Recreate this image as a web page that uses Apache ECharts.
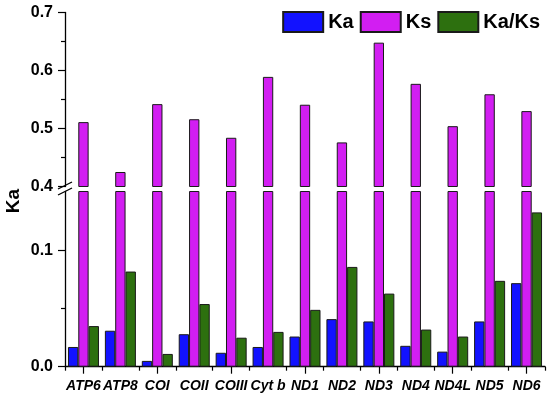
<!DOCTYPE html>
<html>
<head>
<meta charset="utf-8">
<script src="https://cdn.jsdelivr.net/npm/echarts@6/dist/echarts.min.js"></script>
<style>
html,body{margin:0;padding:0;background:#fff;}
#c{width:550px;height:399px;}
</style>
</head>
<body>
<div id="c"></div>
<script>
const categories = ['ATP6','ATP8','COI','COII','COIII','Cyt b','ND1','ND2','ND3','ND4','ND4L','ND5','ND6'];
const kaValues   = [0.017, 0.031, 0.005, 0.028, 0.012, 0.017, 0.026, 0.041, 0.039, 0.018, 0.013, 0.039, 0.072];
const ksValues   = [0.511, 0.425, 0.542, 0.516, 0.484, 0.589, 0.541, 0.476, 0.648, 0.577, 0.504, 0.559, 0.530];
const kaksValues = [0.035, 0.082, 0.011, 0.054, 0.025, 0.030, 0.049, 0.086, 0.063, 0.032, 0.026, 0.074, 0.133];
const upperTicks = [0.4, 0.5, 0.6, 0.7];
const lowerTicks = [0.0, 0.1];
const lowerMinorTicks = [0.05];

const FONT = 'Liberation Sans, Arial, sans-serif';
const colors = {Ka:'#1212FF', Ks:'#D21EF2', KaKs:'#2D700F'};
const border = {borderColor:'#1a1a1a', borderWidth:1};
const blank = v => '-';

const chart = echarts.init(document.getElementById('c'), null, {renderer:'canvas'});

const gridLeft = 65, gridRight = 5;
const barCommon = {barGap:'0%', barCategoryGap:'16%', animation:false};

chart.setOption({
  animation:false,
  legend:{
    right:5, top:6, icon:'rect',
    itemWidth:40, itemHeight:20, itemGap:6,
    textStyle:{fontFamily:FONT, fontWeight:'bold', fontSize:20, color:'#000'},
    data:['Ka','Ks','Ka/Ks']
  },
  grid:[
    {left:gridLeft, right:gridRight, top:12.5, height:174},
    {left:gridLeft, right:gridRight, top:191.5, height:175.2}
  ],
  xAxis:[
    {type:'category', gridIndex:0, data:categories, show:false},
    {type:'category', gridIndex:1, data:categories, position:'bottom',
      axisLine:{lineStyle:{color:'#000', width:1.3}},
      axisTick:{show:true, alignWithLabel:false, length:4, lineStyle:{color:'#000', width:1.2}},
      axisLabel:{fontFamily:FONT, fontWeight:'bold', fontStyle:'italic', fontSize:14, color:'#000', margin:12, interval:0}
    },
    {type:'category', gridIndex:1, data:categories, position:'bottom',
      axisLine:{show:false},
      axisTick:{show:true, alignWithLabel:true, length:7, lineStyle:{color:'#000', width:1.2}},
      axisLabel:{show:false}
    }
  ],
  yAxis:[
    {type:'value', gridIndex:0, min:0.4, max:0.7, interval:0.1, position:'left',
      axisLine:{show:true, lineStyle:{color:'#000', width:1.3}},
      axisTick:{show:true, length:7, lineStyle:{color:'#000', width:1.2}},
      minorTick:{show:true, splitNumber:2, length:4, lineStyle:{color:'#000', width:1.2}},
      splitLine:{show:false},
      axisLabel:{customValues:upperTicks, fontFamily:FONT, fontWeight:'bold', fontSize:16, color:'#000', margin:12,
        formatter:v=>v.toFixed(1)}
    },
    {type:'value', gridIndex:1, min:0, max:0.151, position:'left',
      axisLine:{show:true, lineStyle:{color:'#000', width:1.3}},
      axisTick:{show:true, customValues:lowerTicks, length:7, lineStyle:{color:'#000', width:1.2}},
      splitLine:{show:false},
      axisLabel:{customValues:lowerTicks, fontFamily:FONT, fontWeight:'bold', fontSize:16, color:'#000', margin:12,
        formatter:v=>v.toFixed(1)}
    },
    {type:'value', gridIndex:1, min:0, max:0.151, position:'left', offset:0,
      axisLine:{show:false},
      axisTick:{show:true, customValues:lowerMinorTicks, length:4, lineStyle:{color:'#000', width:1.2}},
      splitLine:{show:false},
      axisLabel:{show:false, customValues:lowerMinorTicks}
    }
  ],
  series:[
    Object.assign({name:'Ka', type:'bar', xAxisIndex:0, yAxisIndex:0, data:kaValues.map(blank), itemStyle:Object.assign({color:colors.Ka}, border)}, barCommon),
    Object.assign({name:'Ks', type:'bar', xAxisIndex:0, yAxisIndex:0, data:ksValues, itemStyle:Object.assign({color:colors.Ks}, border)}, barCommon),
    Object.assign({name:'Ka/Ks', type:'bar', xAxisIndex:0, yAxisIndex:0, data:kaksValues.map(blank), itemStyle:Object.assign({color:colors.KaKs}, border)}, barCommon),
    Object.assign({name:'Ka', type:'bar', xAxisIndex:1, yAxisIndex:1, data:kaValues, itemStyle:Object.assign({color:colors.Ka}, border)}, barCommon),
    Object.assign({name:'Ks', type:'bar', xAxisIndex:1, yAxisIndex:1, data:ksValues, itemStyle:Object.assign({color:colors.Ks}, border)}, barCommon),
    Object.assign({name:'Ka/Ks', type:'bar', xAxisIndex:1, yAxisIndex:1, data:kaksValues, itemStyle:Object.assign({color:colors.KaKs}, border)}, barCommon)
  ],
  graphic:[
    {type:'text', x:14, y:201, rotation:Math.PI/2,
      style:{text:'Ka', fontFamily:FONT, fontWeight:'bold', fontSize:19, fill:'#000', align:'center', verticalAlign:'middle'}},
    {type:'line', shape:{x1:58, y1:189, x2:72, y2:182}, style:{stroke:'#000', lineWidth:1.3}},
    {type:'line', shape:{x1:58, y1:195, x2:72, y2:188}, style:{stroke:'#000', lineWidth:1.3}}
  ]
});
</script>
</body>
</html>
